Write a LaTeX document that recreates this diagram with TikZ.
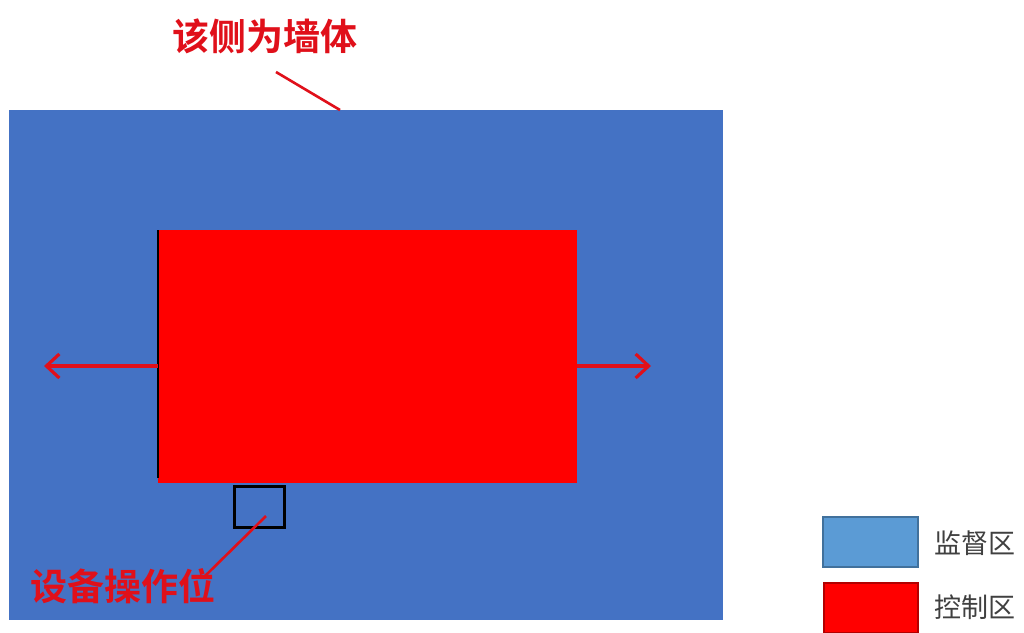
\documentclass[tikz,border=0pt]{standalone}
\usepackage{fontspec}
\newfontfamily\cjk{Noto Sans CJK SC}
\newfontfamily\cjkb{Noto Sans CJK SC Bold}
\usetikzlibrary{arrows.meta}
\definecolor{zoneblue}{HTML}{4472C4}
\definecolor{legblue}{HTML}{5B9BD5}
\definecolor{legblueedge}{HTML}{41719C}
\definecolor{ctrlred}{HTML}{FF0000}
\definecolor{labred}{HTML}{E0101A}
\definecolor{legtext}{HTML}{404040}
\tikzset{
  zone/.style={inner sep=0pt, outer sep=0pt, anchor=north west},
  lab/.style={text=labred, font=\cjkb\fontsize{37}{37}\selectfont, inner sep=0pt},
  legtxt/.style={text=legtext, font=\cjk\fontsize{27}{27}\selectfont, inner sep=0pt, anchor=west},
  pointer/.style={draw=labred, line width=2.6pt},
  extend/.style={draw=labred, line width=3.2pt, -{Straight Barb[length=13pt,width=24pt,line width=3.2pt]}},
}
\begin{document}
\begin{tikzpicture}[x=1pt,y=-1pt]
\useasboundingbox (0,0) rectangle (1024,632);
\fill[white] (0,0) rectangle (1024,632);
% supervision zone
\node[zone, fill=zoneblue, minimum width=714pt, minimum height=510pt] (sup) at (9,110) {};
% control zone
\node[zone, fill=ctrlred, minimum width=419pt, minimum height=253pt] (ctl) at (158,230) {};
\draw[black, line width=2.6pt] (ctl.north west) -- ([yshift=5pt]ctl.south west);
% arrows
\coordinate (la) at (44,366);
\coordinate (ra) at (651,366);
\draw[extend] (ctl.west |- la) -- (la);
\draw[extend] (ctl.east |- ra) -- (ra);
% operating position box
\node[zone, draw=black, line width=3pt, minimum width=50pt, minimum height=41pt] (op) at (234,486) {};
% labels
\node[lab] (wall) at (265,36) {该侧为墙体};
\coordinate (wallend) at (340,110);
\draw[pointer] (276,72) -- (wallend);
\node[lab] (oplab) at (123,586) {设备操作位};
\coordinate (opin) at (266,516);
\draw[pointer] (opin) -- (203,578);
% legend
\node[zone, fill=legblue, draw=legblueedge, line width=1.2pt, minimum width=95pt, minimum height=50pt] (lg1) at (823,517) {};
\node[zone, fill=ctrlred, draw=ctrlred!70!black, line width=1.2pt, minimum width=94pt, minimum height=50pt] (lg2) at (824,583) {};
\node[legtxt] (lt1) at (934,543) {监督区};
\node[legtxt] (lt2) at (934,607) {控制区};
\end{tikzpicture}
\end{document}
